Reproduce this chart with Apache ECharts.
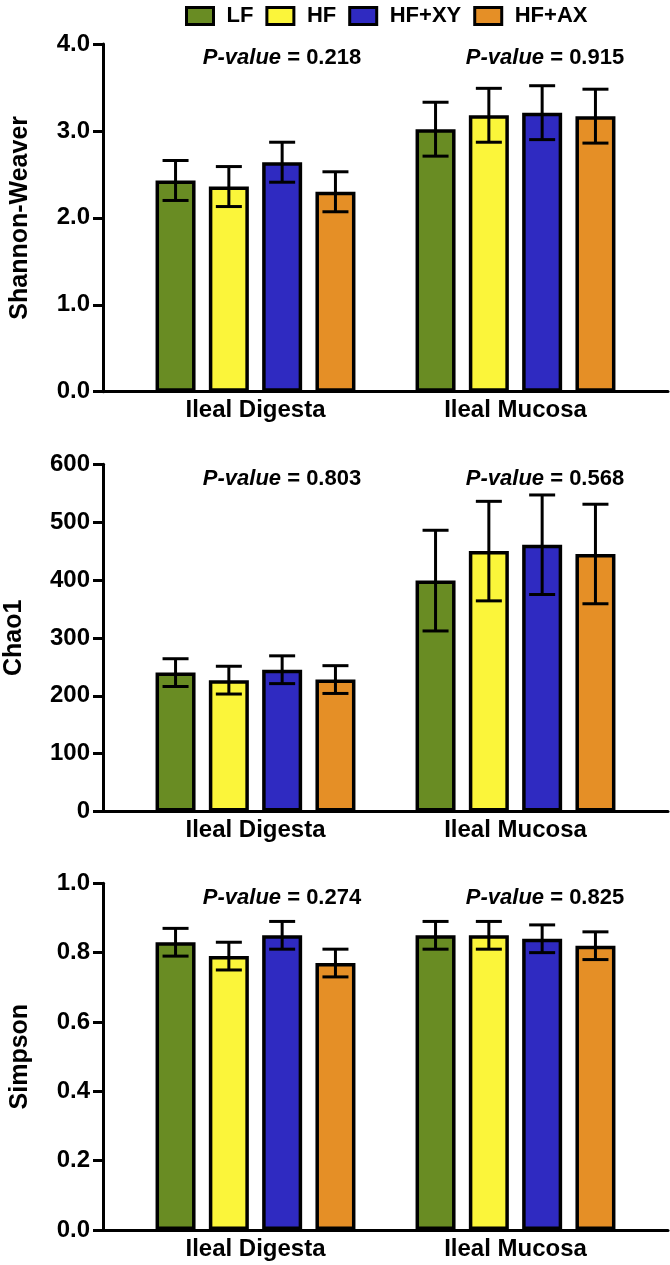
<!DOCTYPE html>
<html><head><meta charset="utf-8">
<script src="https://cdn.jsdelivr.net/npm/echarts@6/dist/echarts.min.js"></script>
<style>html,body{margin:0;padding:0;background:#fff}#c{width:670px;height:1265px}</style>
</head><body><div id="c"></div><script>
// ---- data ----
const categories = ['Ileal Digesta', 'Ileal Mucosa'];
const groups = ['LF', 'HF', 'HF+XY', 'HF+AX'];
// per group: [Ileal Digesta, Ileal Mucosa]
const shannonMean = [[2.43, 3.02], [2.36, 3.18], [2.64, 3.21], [2.30, 3.17]];
const shannonErr  = [[0.23, 0.31], [0.23, 0.31], [0.23, 0.31], [0.23, 0.31]];
const chaoMean    = [[240, 399], [227, 450], [245, 461], [228, 445]];
const chaoErr     = [[24, 87], [24, 86], [24, 86], [24, 86]];
const simpsonMean = [[0.83, 0.85], [0.79, 0.85], [0.85, 0.84], [0.77, 0.82]];
const simpsonErr  = [[0.04, 0.04], [0.04, 0.04], [0.04, 0.04], [0.04, 0.04]];
const pValues = [['0.218', '0.915'], ['0.803', '0.568'], ['0.274', '0.825']];
const yNames = ['Shannon-Weaver', 'Chao1', 'Simpson'];
const yMax = [4, 600, 1];
const yInterval = [1, 100, 0.2];
const yDecimals = [1, 0, 1];

// ---- style / layout ----
const FONT = '"Liberation Sans", Arial, Helvetica, sans-serif';
const colors = ['#698c23', '#fbf53a', '#2f2ac1', '#e58f26'];
const panels = [
  { mean: shannonMean, err: shannonErr, top: 44, height: 347.7, nameGap: 70, pY: 58 },
  { mean: chaoMean, err: chaoErr, top: 464.3, height: 347.2, nameGap: 76, pY: 479 },
  { mean: simpsonMean, err: simpsonErr, top: 883.3, height: 346.7, nameGap: 70, pY: 898 }
];
const GRID_LEFT = 103, GRID_RIGHT = 2;
const AXIS_PX = 670 - GRID_LEFT - GRID_RIGHT;
const GROUP_STEP_PX = 260;          // distance between group centres
const HALF_SPAN = (AXIS_PX / GROUP_STEP_PX - 1) / 2;
const BAR_W = 40, BAR_STEP = 53.3, BORDER = 3.5, CAP = 26;
const pX = [282, 545];

const grid = [], xAxis = [], yAxis = [], series = [], graphic = [];
panels.forEach((p, pi) => {
  grid.push({ left: GRID_LEFT, right: GRID_RIGHT, top: p.top, height: p.height,
              containLabel: false, outerBoundsMode: 'none' });
  xAxis.push({
    type: 'value', gridIndex: pi, min: 1 - HALF_SPAN, max: categories.length + HALF_SPAN,
    splitLine: { show: false },
    axisLine: { show: true, lineStyle: { color: '#000', width: 3 } },
    axisTick: { show: false },
    axisLabel: {
      customValues: categories.map((c, i) => i + 1),
      formatter: v => categories[Math.round(v) - 1] || '',
      fontFamily: FONT, fontSize: 24, fontWeight: 'bold', color: '#000', margin: 7
    }
  });
  yAxis.push({
    type: 'value', gridIndex: pi, min: 0, max: yMax[pi], interval: yInterval[pi],
    name: yNames[pi], nameLocation: 'middle', nameGap: p.nameGap,
    nameTextStyle: { fontFamily: FONT, fontSize: 25, fontWeight: 'bold', color: '#000' },
    splitLine: { show: false },
    axisLine: { show: true, lineStyle: { color: '#000', width: 3 } },
    axisTick: { show: true, length: 10, lineStyle: { color: '#000', width: 3 } },
    axisLabel: {
      formatter: v => v.toFixed(yDecimals[pi]),
      fontFamily: FONT, fontSize: 24, fontWeight: 'bold', color: '#000', margin: 13
    }
  });
  groups.forEach((g, k) => {
    series.push({
      type: 'bar', name: g, xAxisIndex: pi, yAxisIndex: pi,
      barWidth: BAR_W, barGap: ((BAR_STEP - BAR_W) / BAR_W * 100) + '%',
      itemStyle: { color: colors[k], borderColor: '#000', borderWidth: BORDER },
      emphasis: { disabled: true },
      data: categories.map((c, i) => [i + 1, p.mean[k][i]])
    });
    const offset = (k - (groups.length - 1) / 2) * BAR_STEP;
    series.push({
      type: 'custom', name: g + ' error', xAxisIndex: pi, yAxisIndex: pi, z: 5,
      silent: true,
      data: categories.map((c, i) => [i + 1, p.mean[k][i] - p.err[k][i], p.mean[k][i] + p.err[k][i]]),
      renderItem: (params, api) => {
        const lo = api.coord([api.value(0), api.value(1)]);
        const hi = api.coord([api.value(0), api.value(2)]);
        const x = lo[0] + offset;
        const st = { stroke: '#000', lineWidth: 3 };
        return {
          type: 'group', children: [
            { type: 'line', shape: { x1: x, y1: lo[1], x2: x, y2: hi[1] }, style: st },
            { type: 'line', shape: { x1: x - CAP / 2, y1: hi[1], x2: x + CAP / 2, y2: hi[1] }, style: st },
            { type: 'line', shape: { x1: x - CAP / 2, y1: lo[1], x2: x + CAP / 2, y2: lo[1] }, style: st }
          ]
        };
      }
    });
  });
  pValues[pi].forEach((pv, j) => {
    graphic.push({
      type: 'text', x: pX[j], y: p.pY,
      style: {
        text: '{i|P-value} = ' + pv,
        fontFamily: FONT, fontSize: 22, fontWeight: 'bold', fill: '#000',
        align: 'center', verticalAlign: 'middle',
        rich: { i: { fontFamily: FONT, fontSize: 22, fontWeight: 'bold', fontStyle: 'italic', fill: '#000' } }
      }
    });
  });
});

const chart = echarts.init(document.getElementById('c'), null, { renderer: 'canvas' });
chart.setOption({
  animation: false,
  backgroundColor: '#fff',
  legend: {
    data: groups, left: 180, top: 0, itemWidth: 27, itemHeight: 17, itemGap: 12,
    icon: 'rect', selectedMode: false,
    itemStyle: { borderColor: '#000', borderWidth: 3 },
    textStyle: { fontFamily: FONT, fontSize: 22, fontWeight: 'bold', color: '#000', padding: [0, 0, 0, 8] }
  },
  grid, xAxis, yAxis, series, graphic
});
</script></body></html>
